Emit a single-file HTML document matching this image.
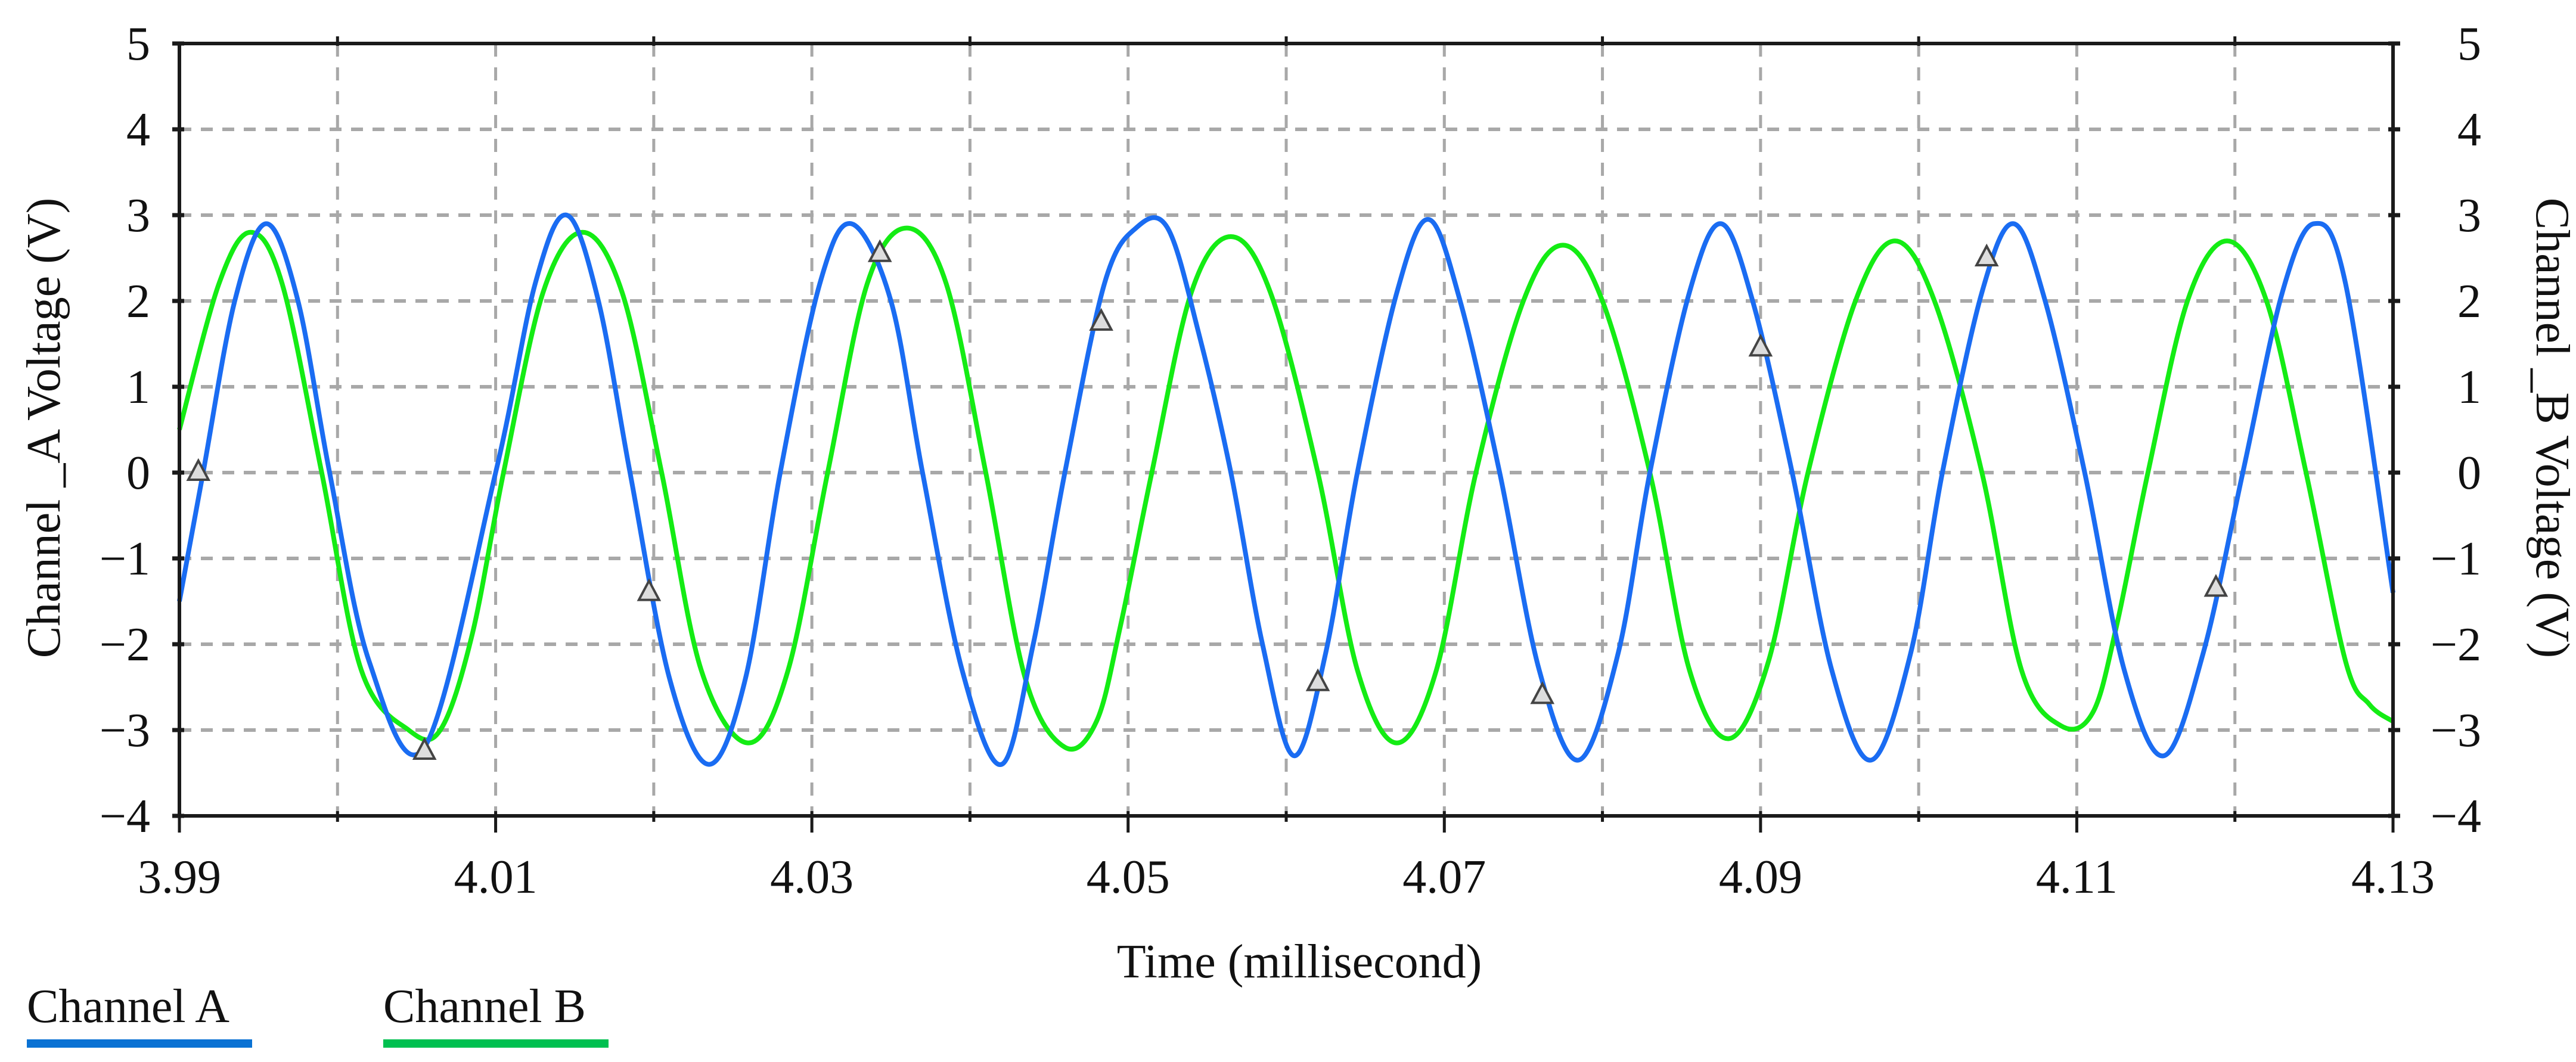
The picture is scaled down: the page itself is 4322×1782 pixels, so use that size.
<!DOCTYPE html>
<html><head><meta charset="utf-8">
<style>
html,body{margin:0;padding:0;background:#fff;}
svg{display:block;}
text{font-family:"Liberation Serif",serif;fill:#111;}
</style></head>
<body>
<svg id="chart" width="4322" height="1782" viewBox="0 0 4322 1782" xmlns="http://www.w3.org/2000/svg">
<g id="grid"></g>
<g id="series"></g>
<g id="markers"></g>
<g id="axes"></g>
<text x="2180" y="1640" font-size="80" text-anchor="middle">Time (millisecond)</text>
<text transform="translate(100,718) rotate(-90)" font-size="80" text-anchor="middle">Channel _A Voltage (V)</text>
<text transform="translate(4256,718) rotate(90)" font-size="80" text-anchor="middle">Channel _B Voltage (V)</text>
<g>
<text x="45" y="1715" font-size="80">Channel A</text>
<rect x="45" y="1744" width="378" height="14" fill="#0a72d4"/>
</g>
<g>
<text x="643" y="1715" font-size="80">Channel B</text>
<rect x="643" y="1744" width="378" height="14" fill="#00c050"/>
</g>
</svg>
<script>
const xTicks = [3.99, 4.01, 4.03, 4.05, 4.07, 4.09, 4.11, 4.13];
const xGrid = [4.00, 4.01, 4.02, 4.03, 4.04, 4.05, 4.06, 4.07, 4.08, 4.09, 4.10, 4.11, 4.12];
const yTicks = [-4, -3, -2, -1, 0, 1, 2, 3, 4, 5];
const yTickLabels = ["\u22124","\u22123","\u22122","\u22121","0","1","2","3","4","5"];
const aTime = [3.990,3.9915,3.9935,3.9955,3.9975,3.9995,4.002,4.0055,4.010,4.0125,4.0145,4.0165,4.0185,4.021,4.0235,4.0258,4.028,4.0305,4.0325,4.035,4.037,4.0395,4.042,4.044,4.046,4.0485,4.0505,4.0525,4.0545,4.0565,4.0585,4.0605,4.0625,4.0645,4.067,4.069,4.071,4.0735,4.076,4.0785,4.081,4.083,4.0855,4.0875,4.0895,4.092,4.0945,4.097,4.0995,4.1015,4.104,4.106,4.108,4.1105,4.113,4.1155,4.118,4.1205,4.123,4.125,4.127,4.130];
const aVolt = [-1.5,0,2.0,2.9,2.0,0,-2.2,-3.2,0,2.2,3.0,2.0,0,-2.4,-3.4,-2.4,0,2.2,2.9,2.0,0,-2.3,-3.4,-2.0,0,2.2,2.85,2.85,1.6,0,-2.0,-3.3,-2.1,0,2.1,2.95,2.0,0,-2.3,-3.35,-2.1,0,2.1,2.9,2.0,0,-2.3,-3.35,-2.1,0,2.1,2.9,2.0,0,-2.3,-3.3,-2.1,0,2.1,2.9,2.2,-1.4];
const bTime = [3.990,3.9925,3.9945,3.9965,3.999,4.0015,4.0045,4.0065,4.0085,4.0105,4.013,4.0155,4.018,4.0205,4.023,4.026,4.0285,4.031,4.0335,4.036,4.0385,4.041,4.0435,4.046,4.048,4.0495,4.0515,4.054,4.0565,4.059,4.062,4.0645,4.067,4.0695,4.072,4.075,4.0775,4.080,4.083,4.0855,4.088,4.0905,4.093,4.096,4.0985,4.101,4.104,4.1065,4.109,4.111,4.1125,4.1145,4.117,4.1195,4.122,4.1245,4.127,4.1285,4.130];
const bVolt = [0.5,2.2,2.8,2.2,0,-2.3,-3.0,-3.0,-1.9,0,2.1,2.8,2.1,0,-2.3,-3.15,-2.3,0,2.2,2.85,2.2,0,-2.4,-3.2,-2.9,-1.8,0,2.1,2.75,2.1,0,-2.3,-3.15,-2.3,0,2.0,2.65,2.0,0,-2.3,-3.1,-2.2,0,2.0,2.7,2.0,0,-2.3,-2.95,-2.8,-1.8,0,2.0,2.7,2.0,0,-2.2,-2.7,-2.9];
const markerTime = [3.9912,4.0055,4.0197,4.0343,4.0483,4.062,4.0762,4.090,4.1043,4.1188];
const markerVolt = [0,-3.25,-1.4,2.55,1.75,-2.45,-2.6,1.45,2.5,-1.35];

const X0=301, X1=4015, Y0=73, Y1=1369;
const xMin=3.99, xMax=4.13, yMin=-4, yMax=5;
const NS="http://www.w3.org/2000/svg";
function sx(t){return X0+(t-xMin)/(xMax-xMin)*(X1-X0);}
function sy(v){return Y1-(v-yMin)/(yMax-yMin)*(Y1-Y0);}
function mk(tag,attrs,parent){const e=document.createElementNS(NS,tag);for(const k in attrs)e.setAttribute(k,attrs[k]);parent.appendChild(e);return e;}
const grid=document.getElementById('grid'),series=document.getElementById('series'),markers=document.getElementById('markers'),axes=document.getElementById('axes');

xGrid.forEach(t=>{const l=mk('line',{x1:sx(t),x2:sx(t),y1:Y0,y2:Y1,stroke:'#a8a8a8','stroke-width':5,'stroke-dasharray':'22 18'},grid);

});
yTicks.forEach(v=>{if(v===yMin||v===yMax)return;const l=mk('line',{x1:X0,x2:X1,y1:sy(v),y2:sy(v),stroke:'#a8a8a8','stroke-width':6,'stroke-dasharray':'20 16'},grid);

});

function smoothPath(ts,vs){const p=ts.map((t,i)=>[sx(t),sy(vs[i])]);let d='M'+p[0][0]+','+p[0][1];
for(let i=0;i<p.length-1;i++){const p0=p[Math.max(0,i-1)],p1=p[i],p2=p[i+1],p3=p[Math.min(p.length-1,i+2)];
const c1=[p1[0]+(p2[0]-p0[0])/6,p1[1]+(p2[1]-p0[1])/6],c2=[p2[0]-(p3[0]-p1[0])/6,p2[1]-(p3[1]-p1[1])/6];
d+=' C'+c1+' '+c2+' '+p2;}return d;}
const pb=mk('path',{d:smoothPath(bTime,bVolt),fill:'none',stroke:'#14ec14','stroke-width':8,'stroke-linejoin':'round'},series);


const pa=mk('path',{d:smoothPath(aTime,aVolt),fill:'none',stroke:'#1a6cf2','stroke-width':8,'stroke-linejoin':'round'},series);



markerTime.forEach((t,i)=>{const x=sx(t),y=sy(markerVolt[i]);
const m=mk('polygon',{points:(x)+','+(y-20)+' '+(x-17)+','+(y+12)+' '+(x+17)+','+(y+12),fill:'#ddd',stroke:'#444','stroke-width':4},markers);

});

const frame=mk('rect',{x:X0,y:Y0,width:X1-X0,height:Y1-Y0,fill:'none',stroke:'#1a1a1a','stroke-width':6},axes);


[3.99,4.00,4.01,4.02,4.03,4.04,4.05,4.06,4.07,4.08,4.09,4.10,4.11,4.12,4.13].forEach(t=>{const major=xTicks.some(v=>Math.abs(v-t)<1e-6);
const tk=mk('line',{x1:sx(t),x2:sx(t),y1:Y1-8,y2:Y1+(major?28:10),stroke:'#1a1a1a','stroke-width':5},axes);

});
xTicks.forEach(t=>{const tx=mk('text',{x:sx(t),y:1498,'font-size':80,'text-anchor':'middle'},axes);tx.textContent=t.toFixed(2);

});
yTicks.forEach((v,i)=>{
const tl=mk('line',{x1:X0-12,x2:X0+8,y1:sy(v),y2:sy(v),stroke:'#1a1a1a','stroke-width':7},axes);


const tr=mk('line',{x1:X1-8,x2:X1+12,y1:sy(v),y2:sy(v),stroke:'#1a1a1a','stroke-width':7},axes);


const a=mk('text',{x:252,y:sy(v)+27,'font-size':80,'text-anchor':'end'},axes);a.textContent=yTickLabels[i];


const b=mk('text',{x:4163,y:sy(v)+27,'font-size':80,'text-anchor':'end'},axes);b.textContent=yTickLabels[i];

});
[4.00,4.02,4.04,4.06,4.08,4.10,4.12].forEach(t=>{const tk=mk('line',{x1:sx(t),x2:sx(t),y1:Y0-12,y2:Y0+4,stroke:'#1a1a1a','stroke-width':5},axes);

});
</script>
</body></html>
